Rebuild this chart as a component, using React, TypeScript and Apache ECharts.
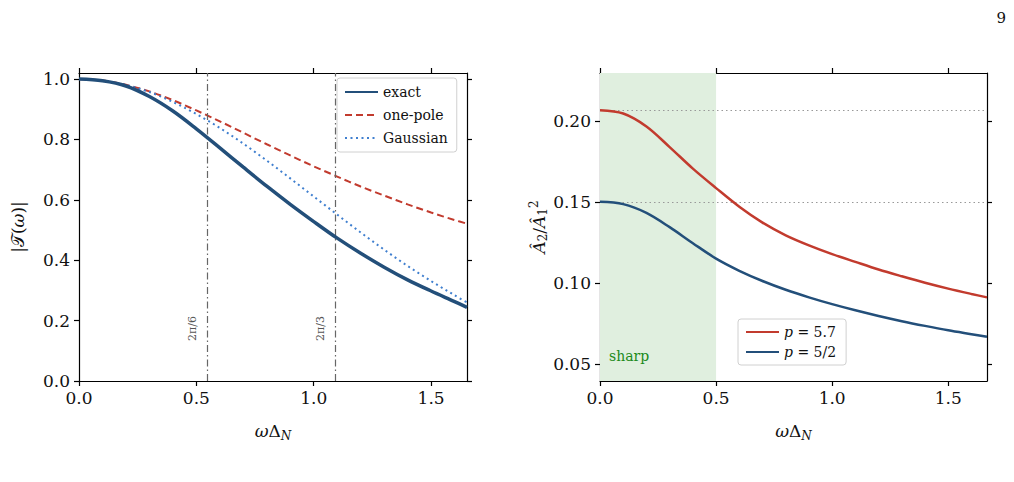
import React, { useEffect, useRef } from "react";
import * as echarts from "echarts";

// Left panel: transfer function magnitude |T(ω)| against ωΔ_N
const xsLeft = [0, 0.1, 0.2, 0.3, 0.4, 0.5, 0.6, 0.7, 0.8, 0.9, 1.0, 1.1, 1.2, 1.3, 1.4, 1.5, 1.6, 1.653];
const exact = [1.0, 0.994, 0.977, 0.942, 0.894, 0.835, 0.772, 0.708, 0.645, 0.585, 0.528, 0.473, 0.423, 0.377, 0.335, 0.298, 0.263, 0.244];
const onePole = [1.0, 0.995, 0.981, 0.959, 0.93, 0.896, 0.86, 0.822, 0.784, 0.747, 0.711, 0.677, 0.644, 0.614, 0.585, 0.558, 0.533, 0.521];
const gaussian = [1.0, 0.995, 0.98, 0.957, 0.924, 0.884, 0.838, 0.786, 0.73, 0.671, 0.611, 0.551, 0.492, 0.435, 0.381, 0.331, 0.284, 0.26];
const leftTicksX = [0, 0.5, 1.0, 1.5];
const leftTicksY = [0, 0.2, 0.4, 0.6, 0.8, 1.0];
const refLines = [
  { x: 0.545, label: "2π/6" },
  { x: 1.09, label: "2π/3" },
];

// Right panel: amplitude ratio Â2/Â1² for two values of p
const xsRight = [0, 0.1, 0.2, 0.3, 0.4, 0.5, 0.6, 0.7, 0.8, 0.9, 1.0, 1.1, 1.2, 1.3, 1.4, 1.5, 1.6, 1.667];
const pHigh = [0.2065, 0.2045, 0.1965, 0.1838, 0.1705, 0.1585, 0.147, 0.1372, 0.1294, 0.1232, 0.1178, 0.113, 0.1083, 0.1041, 0.1001, 0.0965, 0.0932, 0.0911];
const pLow = [0.15, 0.1486, 0.1432, 0.1344, 0.1245, 0.115, 0.1075, 0.1012, 0.0958, 0.0911, 0.0869, 0.0831, 0.0796, 0.0764, 0.0735, 0.0708, 0.0684, 0.0668];
const rightTicksX = [0, 0.5, 1.0, 1.5];
const rightTicksY = [0.05, 0.1, 0.15, 0.2];
const plateaus = [0.2065, 0.15];
const sharpRange = [0, 0.5];
const sharpLabel = "sharp";

const SERIF = "DejaVu Serif";
const DARK_BLUE = "#234f7a";
const RED = "#c23b2e";
const LIGHT_BLUE = "#3f7fcf";
const INK = "#111";
const SMOOTH = 0.33;

const pairs = (xs: number[], ys: number[]) => xs.map((x, i) => [x, ys[i]]);

const upright = (size: number) => ({ fontFamily: SERIF, fontSize: size, color: INK });
const italic = (size: number) => ({ fontFamily: SERIF, fontStyle: "italic", fontSize: size, color: INK });

function frameAxis(
  kind: "x" | "y",
  gridIndex: number,
  min: number,
  max: number,
  ticks: number[],
  position: string,
  labels: boolean,
  digits: number,
  extra: any = {}
) {
  return {
    type: "value",
    gridIndex,
    position,
    min,
    max,
    axisLine: { show: true, onZero: false, lineStyle: { color: "#000", width: 1.2 } },
    axisTick: { show: true, length: 5, inside: false, customValues: ticks, lineStyle: { color: "#000", width: 1.2 } },
    axisLabel: {
      show: labels,
      customValues: ticks,
      margin: kind === "x" ? 8 : 9,
      fontFamily: SERIF,
      fontSize: 17,
      color: INK,
      formatter: (v: number) => v.toFixed(digits),
    },
    splitLine: { show: false },
    ...extra,
  };
}

const xName = {
  name: "{i|ω}{u|Δ}{s|N}",
  nameLocation: "middle",
  nameGap: 38,
  nameTextStyle: {
    ...upright(17),
    rich: {
      i: italic(17),
      u: upright(17),
      s: { ...italic(12), padding: [11, 0, 0, 0] },
    },
  },
};

const legendBase = {
  orient: "vertical",
  itemWidth: 33,
  itemHeight: 14,
  backgroundColor: "rgba(255,255,255,0.85)",
  borderColor: "#d0d0d0",
  borderWidth: 1,
  borderRadius: 3,
  itemStyle: { opacity: 0 },
};

const lineSeries = (name: string, axis: number, xs: number[], ys: number[], color: string, width: number, type: any, z: number, extra: any = {}) => ({
  name,
  type: "line",
  xAxisIndex: axis,
  yAxisIndex: axis,
  data: pairs(xs, ys),
  smooth: SMOOTH,
  symbol: "none",
  z,
  lineStyle: { color, width, type },
  itemStyle: { color },
  ...extra,
});

export default function App() {
  const ref = useRef<HTMLDivElement>(null);

  useEffect(() => {
    if (!ref.current) return;
    const chart = echarts.init(ref.current, undefined, { renderer: "svg" });

    const pageNumber = {
      id: "page",
      type: "text",
      right: 8,
      top: 10,
      style: { text: "9", fontFamily: SERIF, fontSize: 15, fill: INK },
    };

    const option: any = {
      animation: false,
      backgroundColor: "#fff",
      grid: [
        { left: 79, top: 73, width: 388, height: 308 },
        { left: 600, top: 73, width: 387, height: 308 },
      ],
      xAxis: [
        frameAxis("x", 0, 0, 1.653, leftTicksX, "bottom", true, 1, xName),
        frameAxis("x", 0, 0, 1.653, leftTicksX, "top", false, 1),
        frameAxis("x", 1, 0, 1.667, rightTicksX, "bottom", true, 1, xName),
        frameAxis("x", 1, 0, 1.667, rightTicksX, "top", false, 1),
      ],
      yAxis: [
        frameAxis("y", 0, 0, 1.02, leftTicksY, "left", true, 1, {
          name: "{u||}{c|𝒯}{u|(}{i|ω}{u|)|}",
          nameLocation: "middle",
          nameGap: 53,
          nameRotate: 90,
          nameTextStyle: {
            ...upright(17),
            rich: {
              u: upright(17),
              c: { fontFamily: "DejaVu Sans", fontSize: 17, color: INK },
              i: italic(17),
            },
          },
        }),
        frameAxis("y", 0, 0, 1.02, leftTicksY, "right", false, 1),
        frameAxis("y", 1, 0.0395, 0.2295, rightTicksY, "left", true, 2, {
          name: "{i|Â}{s|2}{u|/}{i|Â}{s|1}{p|2}",
          nameLocation: "middle",
          nameGap: 46,
          nameRotate: 90,
          nameTextStyle: {
            ...upright(17),
            rich: {
              i: italic(17),
              u: upright(17),
              s: { ...upright(12), padding: [9, 0, 0, 0] },
              p: { ...upright(12), padding: [0, 0, 9, 0] },
            },
          },
        }),
        frameAxis("y", 1, 0.0395, 0.2295, rightTicksY, "right", false, 2),
      ],
      legend: [
        {
          ...legendBase,
          left: 337,
          top: 78,
          data: ["exact", "one-pole", "Gaussian"],
          itemGap: 9,
          padding: [7, 9, 7, 7],
          textStyle: upright(14),
        },
        {
          ...legendBase,
          left: 738,
          top: 319,
          data: ["p = 5.7", "p = 5/2"],
          itemGap: 6,
          padding: [6, 10, 6, 7],
          formatter: (name: string) => "{i|p}{u|" + name.slice(1) + "}",
          textStyle: {
            ...upright(14),
            rich: { i: italic(14), u: upright(14) },
          },
        },
      ],
      series: [
        lineSeries("exact", 0, xsLeft, exact, DARK_BLUE, 3.5, "solid", 5, {
          markLine: {
            silent: true,
            symbol: "none",
            precision: 4,
            lineStyle: { color: "#666", width: 1.2, type: [7, 3, 1.5, 3] },
            label: {
              show: true,
              position: "insideStartTop",
              distance: [40, 9],
              fontFamily: SERIF,
              fontSize: 11,
              color: "#555",
              formatter: (p: any) => p.name,
            },
            data: refLines.map((r) => ({ xAxis: r.x, name: r.label })),
          },
        }),
        lineSeries("one-pole", 0, xsLeft, onePole, RED, 2, [7, 4], 4),
        lineSeries("Gaussian", 0, xsLeft, gaussian, LIGHT_BLUE, 2, [2, 3.5], 4),
        lineSeries("p = 5.7", 2, xsRight, pHigh, RED, 2.5, "solid", 5, {
          markArea: {
            silent: true,
            itemStyle: { color: "#e0efdf" },
            label: { show: false },
            data: [[{ xAxis: sharpRange[0] }, { xAxis: sharpRange[1] }]],
          },
          markLine: {
            silent: true,
            symbol: "none",
            precision: 4,
            label: { show: false },
            lineStyle: { color: "#999", width: 1, type: [1.5, 3] },
            data: plateaus.map((v) => ({ yAxis: v })),
          },
        }),
        lineSeries("p = 5/2", 2, xsRight, pLow, DARK_BLUE, 2.5, "solid", 5),
      ],
      graphic: [pageNumber],
    };

    chart.setOption(option);

    // Caption inside the shaded band, near its lower-left corner
    const corner = chart.convertToPixel({ xAxisIndex: 2, yAxisIndex: 2 }, [sharpRange[0], 0.0395]) as number[];
    if (corner) {
      chart.setOption({
        graphic: [
          pageNumber,
          {
            id: "sharp",
            type: "text",
            x: corner[0] + 9,
            y: corner[1] - 25,
            z: 10,
            style: {
              text: sharpLabel,
              fontFamily: SERIF,
              fontSize: 14,
              fill: "#1a8a1a",
              verticalAlign: "middle",
            },
          },
        ],
      });
    }

    return () => chart.dispose();
  }, []);

  return (
    <div
      ref={ref}
      style={{ position: "fixed", left: 0, top: 0, width: 1014, height: 482, background: "#fff" }}
    />
  );
}
